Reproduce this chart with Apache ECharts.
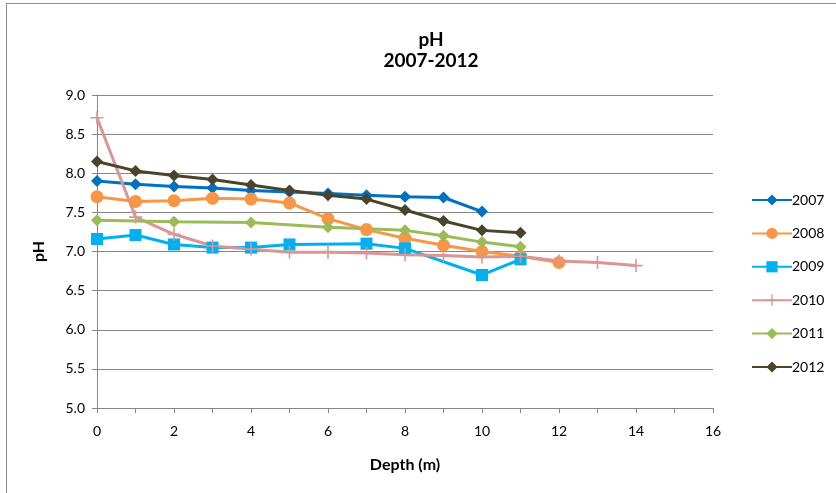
<!DOCTYPE html>
<html>
<head>
<meta charset="utf-8">
<script src="https://cdn.jsdelivr.net/npm/echarts@6/dist/echarts.min.js"></script>
<style>
html,body{margin:0;padding:0;background:#fff;}
#frame{position:absolute;left:6px;top:3px;width:840px;height:500px;border-left:1px solid #8c8c8c;border-top:1px solid #8c8c8c;box-sizing:border-box;}
#chart{position:absolute;left:0;top:0;width:836px;height:493px;}
</style>
</head>
<body>
<div id="frame"></div>
<div id="chart"></div>
<script>
const years = ['2007','2008','2009','2010','2011','2012'];
const depth2007 = [0,1,2,3,4,5,6,7,8,9,10];
const ph2007 = [7.90,7.86,7.83,7.81,7.78,7.76,7.74,7.72,7.70,7.69,7.51];
const depth2008 = [0,1,2,3,4,5,6,7,8,9,10,11,12];
const ph2008 = [7.70,7.64,7.65,7.68,7.67,7.62,7.42,7.28,7.17,7.08,7.00,6.94,6.86];
const depth2009 = [0,1,2,3,4,5,7,8,10,11];
const ph2009 = [7.16,7.21,7.09,7.05,7.05,7.09,7.10,7.04,6.70,6.90];
const depth2010 = [0,1,2,3,4,5,6,7,8,9,10,11,12,13,14];
const ph2010 = [8.71,7.44,7.22,7.07,7.03,6.99,6.99,6.98,6.96,6.95,6.93,6.94,6.88,6.86,6.82];
const depth2011 = [0,2,4,6,8,9,10,11];
const ph2011 = [7.40,7.38,7.37,7.31,7.27,7.20,7.12,7.06];
const depth2012 = [0,1,2,3,4,5,6,7,8,9,10,11];
const ph2012 = [8.15,8.03,7.97,7.92,7.85,7.78,7.72,7.67,7.53,7.39,7.27,7.24];

const depths = [depth2007,depth2008,depth2009,depth2010,depth2011,depth2012];
const values = [ph2007,ph2008,ph2009,ph2010,ph2011,ph2012];
const colors = ['#0070C0','#F79646','#00B0F0','#D99694','#9BBB59','#4A442A'];
const plusPath = 'path://M5.25,0h1.5v5.25h5.25v1.5h-5.25v5.25h-1.5v-5.25h-5.25v-1.5h5.25z';
const symbols = ['diamond','circle','rect',plusPath,'diamond','diamond'];
const sizes = [12,13,12,13,12,12];

const FONT = 'Lato, "Liberation Sans", sans-serif';
const chart = echarts.init(document.getElementById('chart'), null, {renderer:'canvas'});

const series = years.map((y,i)=>({
  name: y,
  type: 'line',
  data: depths[i].map((d,j)=>[d, values[i][j]]),
  symbol: symbols[i],
  symbolSize: sizes[i],
  showAllSymbol: true,
  lineStyle: {width: 3, color: colors[i]},
  itemStyle: {color: colors[i], borderWidth: 0},
  emphasis: {disabled: true},
  animation: false
}));

chart.setOption({
  animation: false,
  color: colors,
  title: {
    text: 'pH\n2007-2012',
    left: 426,
    top: 24,
    textAlign: 'center',
    textStyle: {fontFamily: FONT, fontSize: 19, fontWeight: 'bold', color: '#000', lineHeight: 21}
  },
  grid: {left: 97, right: 123, top: 95, bottom: 85},
  legend: {
    orient: 'vertical',
    left: 746,
    top: 188,
    itemWidth: 40,
    itemHeight: 14,
    itemGap: 19.4,
    textStyle: {fontFamily: FONT, fontSize: 14, color: '#000', padding: [0,0,0,-5]},
    data: years
  },
  xAxis: {
    type: 'value',
    min: 0, max: 16, interval: 2,
    name: 'Depth (m)',
    nameLocation: 'middle',
    nameGap: 49,
    nameTextStyle: {fontFamily: FONT, fontSize: 16, fontWeight: 'bold', color: '#000'},
    axisLine: {show: true, lineStyle: {color: '#868686', width: 1}},
    axisTick: {show: true, length: 5, inside: false, lineStyle: {color: '#868686'}},
    minorTick: {show: true, splitNumber: 2, length: 5, lineStyle: {color: '#868686'}},
    splitLine: {show: false},
    axisLabel: {fontFamily: FONT, fontSize: 14, color: '#000', margin: 16}
  },
  yAxis: {
    type: 'value',
    min: 5, max: 9, interval: 0.5,
    name: 'pH',
    nameLocation: 'middle',
    nameGap: 50,
    nameRotate: 90,
    nameTextStyle: {fontFamily: FONT, fontSize: 16, fontWeight: 'bold', color: '#000'},
    axisLine: {show: true, lineStyle: {color: '#868686', width: 1}},
    axisTick: {show: true, length: 5, lineStyle: {color: '#868686'}},
    splitLine: {show: true, lineStyle: {color: '#868686', width: 1}},
    axisLabel: {fontFamily: FONT, fontSize: 14, color: '#000', margin: 12, formatter: v => v.toFixed(1)}
  },
  series: series
});
</script>
</body>
</html>
